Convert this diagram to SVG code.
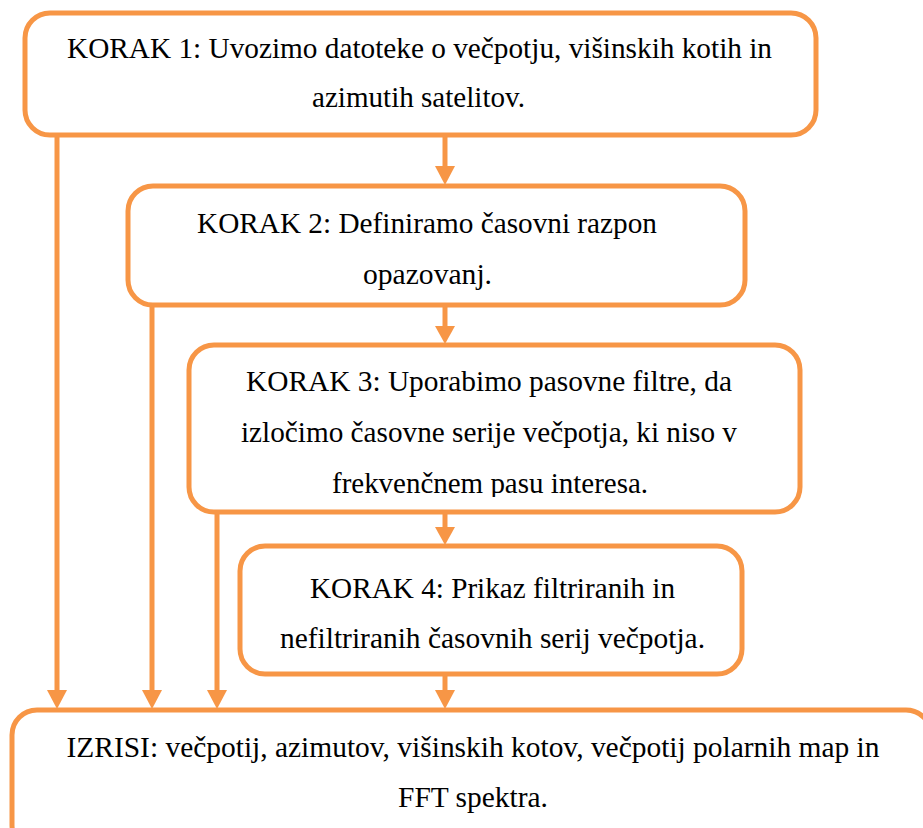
<svg xmlns="http://www.w3.org/2000/svg" width="923" height="828" viewBox="0 0 923 828">
<style>
.box{fill:#FFFFFF;stroke:#F79646;stroke-width:5}
.con{stroke:#F79646;stroke-width:5;fill:none}
.ah{fill:#F79646;stroke:none}
.t{font-size:29px;fill:#000000;text-anchor:middle}
</style>
<defs>
<clipPath id="clip3"><rect x="190" y="340" width="610" height="157"/></clipPath>
</defs>
<rect width="923" height="828" fill="#FFFFFF"/>
<g id="connectors">
<line class="con" x1="57" y1="136" x2="57" y2="692"/>
<polygon class="ah" points="47,690 67,690 57,709"/>
<line class="con" x1="152" y1="306" x2="152" y2="692"/>
<polygon class="ah" points="142,690 162,690 152,709"/>
<line class="con" x1="217" y1="513" x2="217" y2="692"/>
<polygon class="ah" points="207,690 227,690 217,709"/>
<line class="con" x1="445" y1="136" x2="445" y2="168"/>
<polygon class="ah" points="435,166 455,166 445,185"/>
<line class="con" x1="445" y1="306" x2="445" y2="328"/>
<polygon class="ah" points="435,326 455,326 445,344"/>
<line class="con" x1="445" y1="513" x2="445" y2="529"/>
<polygon class="ah" points="435,527 455,527 445,545"/>
<line class="con" x1="445" y1="675" x2="445" y2="692"/>
<polygon class="ah" points="435,690 455,690 445,709"/>
</g>
<g font-family="'Liberation Serif', Tinos, 'Times New Roman', 'DejaVu Serif', serif">
<g id="korak1">
<rect class="box" x="25" y="13" width="791" height="122" rx="25" ry="25"/>
<text class="t" x="419.5" y="58" textLength="705" lengthAdjust="spacingAndGlyphs">KORAK 1: Uvozimo datoteke o večpotju, višinskih kotih in</text>
<text class="t" x="418.5" y="107" textLength="213" lengthAdjust="spacingAndGlyphs">azimutih satelitov.</text>
</g>
<g id="korak2">
<rect class="box" x="128" y="186" width="617" height="119" rx="25" ry="25"/>
<text class="t" x="427" y="233" textLength="460" lengthAdjust="spacingAndGlyphs">KORAK 2: Definiramo časovni razpon</text>
<text class="t" x="427.5" y="284" textLength="129" lengthAdjust="spacingAndGlyphs">opazovanj.</text>
</g>
<g id="korak3">
<rect class="box" x="189" y="345" width="611" height="167" rx="25" ry="25"/>
<text class="t" x="489" y="391" textLength="486" lengthAdjust="spacingAndGlyphs">KORAK 3: Uporabimo pasovne filtre, da</text>
<text class="t" x="489" y="442" textLength="496" lengthAdjust="spacingAndGlyphs">izločimo časovne serije večpotja, ki niso v</text>
<text class="t" x="490" y="493" textLength="316" lengthAdjust="spacingAndGlyphs" clip-path="url(#clip3)">frekvenčnem pasu interesa.</text>
</g>
<g id="korak4">
<rect class="box" x="240" y="546" width="502" height="128" rx="25" ry="25"/>
<text class="t" x="492.5" y="598" textLength="365" lengthAdjust="spacingAndGlyphs">KORAK 4: Prikaz filtriranih in</text>
<text class="t" x="492.5" y="648" textLength="425" lengthAdjust="spacingAndGlyphs">nefiltriranih časovnih serij večpotja.</text>
</g>
<g id="izrisi">
<rect class="box" x="12" y="710" width="919" height="140" rx="25" ry="25"/>
<text class="t" x="473" y="757" textLength="813" lengthAdjust="spacingAndGlyphs">IZRISI: večpotij, azimutov, višinskih kotov, večpotij polarnih map in</text>
<text class="t" x="473" y="807" textLength="150" lengthAdjust="spacingAndGlyphs">FFT spektra.</text>
</g>
</g>
</svg>
